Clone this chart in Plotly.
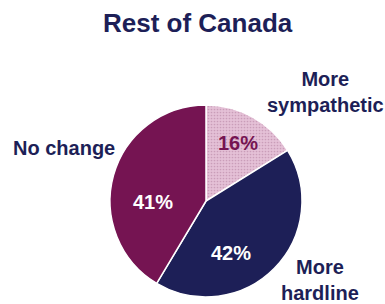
import plotly.graph_objects as go

categories = ["More sympathetic", "More hardline", "No change"]
values = [16, 42, 41]
display_labels = ["More<br>sympathetic", "More<br>hardline", "No change"]
title_text = "Rest of Canada"

W, H = 385, 304
navy = "#1d1f57"
maroon = "#751452"
pink = "#e4c0d6"

cx, cy, r = 206, 201, 96

fig = go.Figure(go.Pie(
    labels=categories,
    values=values,
    sort=False,
    direction="clockwise",
    rotation=0,
    textinfo="none",
    marker=dict(
        colors=[pink, navy, maroon],
        line=dict(color="white", width=1.5),
        pattern=dict(shape=[".", "", ""], fillmode="overlay", fgcolor=["#b07a9c", navy, maroon],
                     size=3, solidity=0.25),
    ),
    domain=dict(x=[(cx - r) / W, (cx + r) / W], y=[1 - (cy + r) / H, 1 - (cy - r) / H]),
    showlegend=False,
    hoverinfo="skip",
))

font = "Liberation Sans"
annotations = [dict(text="<b>%s</b>" % title_text, x=198 / W, y=1 - 23 / H, xref="paper", yref="paper",
                    xanchor="center", yanchor="middle",
                    showarrow=False, font=dict(family=font, size=26, color=navy))]
label_pos = [(325, 92), (320, 280), (64, 148)]
for lab, (x, y) in zip(display_labels, label_pos):
    annotations.append(dict(text="<b>%s</b>" % lab, x=x / W, y=1 - y / H, xref="paper", yref="paper",
                            xanchor="center", yanchor="middle",
                            showarrow=False, font=dict(family=font, size=20, color=navy),
                            align="center"))
pct_pos = [(238, 143), (231, 253), (153, 202)]
pct_colors = [maroon, "white", "white"]
for v, (x, y), c in zip(values, pct_pos, pct_colors):
    annotations.append(dict(text="<b>%d%%</b>" % v, x=x / W, y=1 - y / H, xref="paper", yref="paper",
                            xanchor="center", yanchor="middle",
                            showarrow=False, font=dict(family=font, size=20, color=c)))

fig.update_layout(
    width=W, height=H,
    margin=dict(l=0, r=0, t=0, b=0),
    paper_bgcolor="white",
    annotations=annotations,
)
fig.write_html("out.html", config={"displayModeBar": False},
               post_script="document.body.style.margin='0';")
